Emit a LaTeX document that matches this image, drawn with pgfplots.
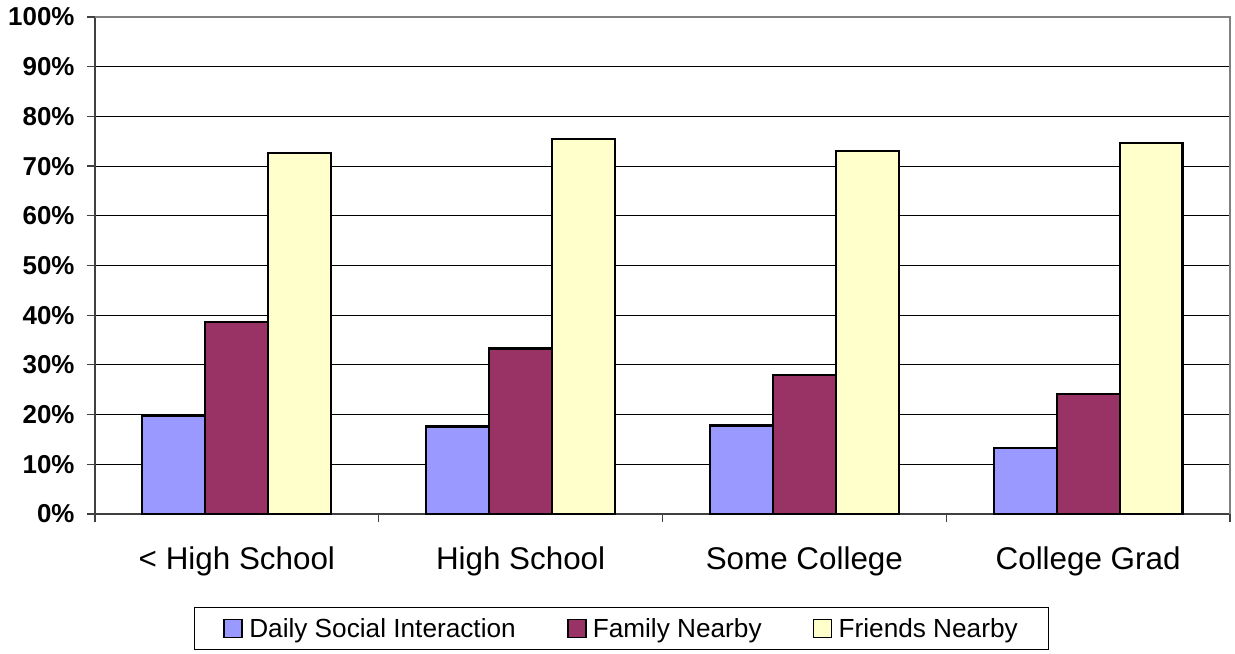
\documentclass[border=0pt]{standalone}
\usepackage{pgfplots}
\pgfplotsset{compat=1.18}
\usepackage{fontspec}
\setmainfont{Liberation Sans}

\definecolor{dsi}{HTML}{9999FF}
\definecolor{fam}{HTML}{993366}
\definecolor{fri}{HTML}{FFFFCC}
\definecolor{framegray}{HTML}{808080}

\pgfplotsset{
  sq legend/.style={
    legend image code/.code={
      \draw[##1,line width=1.8bp] (0bp,-9bp) rectangle (18bp,9bp);
      \path (22bp,0bp);
    }
  }
}

\begin{document}
\begin{tikzpicture}
\useasboundingbox (-95bp,-140bp) rectangle (1140bp,514bp);
\begin{axis}[
  at={(0,0)}, anchor=south west,
  scale only axis, width=1135bp, height=497bp,
  clip=false,
  xmin=-0.5, xmax=3.5, ymin=0, ymax=100,
  ybar=0pt, bar width=0.222,
  axis lines=left,
  axis line style={-, line width=1.5bp, black!75},
  tick align=outside,
  xtick={0,1,2,3},
  xticklabels={{< High School},{High School},{Some College},{College Grad}},
  major x tick style={draw=none},
  minor xtick={-0.5,0.5,1.5,2.5,3.5},
  minor x tick style={line width=1.2bp, black!75},
  minor tick length=8bp,
  ytick={0,10,...,100},
  yticklabels={0\%,10\%,20\%,30\%,40\%,50\%,60\%,70\%,80\%,90\%,100\%},
  major y tick style={line width=1.2bp, black!75},
  major tick length=8bp,
  ymajorgrids,
  grid style={black, line width=1bp},
  yticklabel style={font=\bfseries\fontsize{26}{26}\selectfont, anchor=east, xshift=-9bp},
  xticklabel style={font=\fontsize{31.5}{31.5}\selectfont, anchor=north, yshift=-21bp},
  legend columns=3,
  legend style={
    at={(rel axis cs:0.4639,-0.2304)}, anchor=center,
    draw=black, line width=1bp,
    font=\fontsize{26.3}{26.3}\selectfont,
    inner xsep=28.5bp, inner ysep=9bp,
    /tikz/column 2/.style={column sep=49bp},
    /tikz/column 4/.style={column sep=49bp},
  },
]
\addplot[fill=dsi, draw=black, line width=2.2bp, sq legend] coordinates {(0,19.8) (1,17.6) (2,17.8) (3,13.3)};
\addplot[fill=fam, draw=black, line width=2.2bp, sq legend] coordinates {(0,38.6) (1,33.3) (2,28.0) (3,24.1)};
\addplot[fill=fri, draw=black, line width=2.2bp, sq legend] coordinates {(0,72.6) (1,75.5) (2,73.1) (3,74.7)};
\legend{Daily Social Interaction, Family Nearby, Friends Nearby}
% plot area frame on the top and right
\draw[framegray, line width=2bp] (rel axis cs:0,1) -- (rel axis cs:1,1) -- (rel axis cs:1,0);
\end{axis}
\end{tikzpicture}
\end{document}
